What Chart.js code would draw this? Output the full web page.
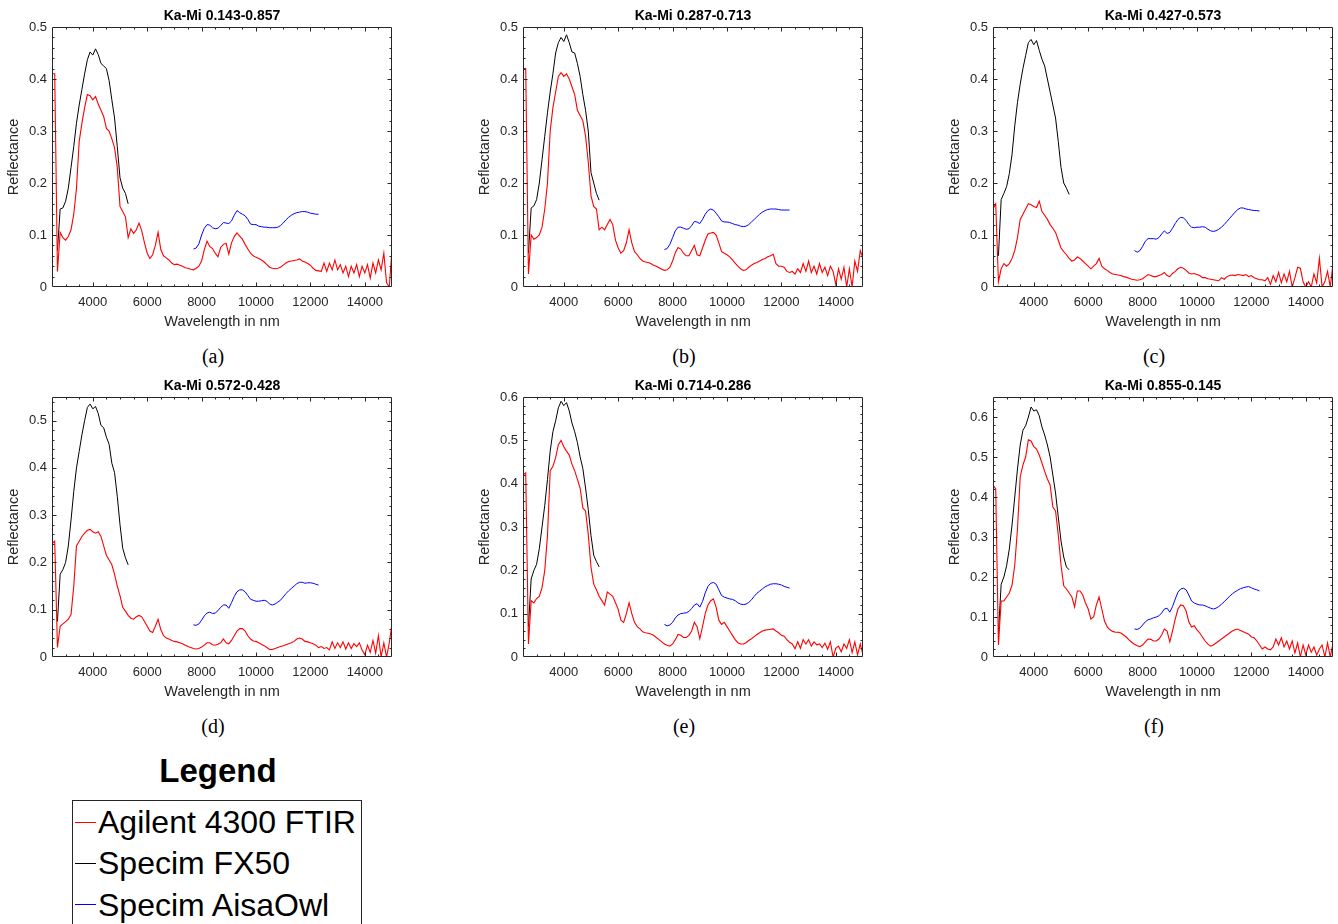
<!DOCTYPE html>
<html>
<head>
    <title>Ka-Mi reflectance spectra</title>
    <script src="https://cdn.jsdelivr.net/npm/chart.js"></script>
    <style>
        body {
            margin: 0;
            background-color: #ffffff;
            font-family: "Liberation Sans", Arial, Helvetica, sans-serif;
        }

        #page {
            position: relative;
            width: 1338px;
            height: 924px;
            overflow: hidden;
        }

        canvas {
            position: absolute;
        }

        .caption {
            position: absolute;
            width: 100px;
            text-align: center;
            font: 20px/20px "Liberation Serif", "Times New Roman", serif;
            color: #000;
        }

        #legendTitle {
            position: absolute;
            left: 118px;
            top: 754px;
            width: 200px;
            text-align: center;
            font: bold 33px/33px "Liberation Sans", Arial, sans-serif;
            color: #000;
        }

        #legendBox {
            position: absolute;
            left: 72px;
            top: 800px;
            width: 288px;
            height: 140px;
            border: 1px solid #262626;
            background: #fff;
        }

        .entry {
            position: absolute;
            left: 25px;
            font: 32px/32px "Liberation Sans", Arial, sans-serif;
            color: #000;
            white-space: nowrap;
        }

        .swatch {
            position: absolute;
            left: 2px;
            width: 21px;
            height: 1px;
        }
    </style>
</head>
<body>
<div id="page">
    <div id="legendTitle">Legend</div>
    <div id="legendBox"></div>
</div>

<script>
    // wavelengths (nm) for each instrument
    const wlAgilent = [
        2500, 2600, 2700, 2800, 2900, 3000, 3100, 3200, 3300, 3400,
        3500, 3600, 3700, 3800, 3900, 4000, 4100, 4200, 4300, 4400,
        4500, 4600, 4700, 4800, 4900, 5000, 5100, 5200, 5300, 5400,
        5500, 5600, 5700, 5800, 5900, 6000, 6100, 6200, 6300, 6400,
        6500, 6600, 6700, 6800, 6900, 7000, 7100, 7200, 7300, 7400,
        7500, 7600, 7700, 7800, 7900, 8000, 8100, 8200, 8300, 8400,
        8500, 8600, 8700, 8800, 8900, 9000, 9100, 9200, 9300, 9400,
        9500, 9600, 9700, 9800, 9900, 10000, 10100, 10200, 10300, 10400,
        10500, 10600, 10700, 10800, 10900, 11000, 11100, 11200, 11300, 11400,
        11500, 11600, 11700, 11800, 11900, 12000, 12100, 12200, 12300, 12400,
        12500, 12600, 12700, 12800, 12900, 13000, 13100, 13200, 13300, 13400,
        13500, 13600, 13700, 13800, 13900, 14000, 14100, 14200, 14300, 14400,
        14500, 14600, 14700, 14800, 14900, 15000
    ];
    const wlFX50 = [
        2700, 2800, 2900, 3000, 3100, 3200, 3300, 3400, 3500, 3600,
        3700, 3800, 3900, 4000, 4100, 4200, 4300, 4400, 4500, 4600,
        4700, 4800, 4900, 5000, 5100, 5200, 5300
    ];
    const wlAisa = [
        7700, 7800, 7900, 8000, 8100, 8200, 8300, 8400, 8500, 8600,
        8700, 8800, 8900, 9000, 9100, 9200, 9300, 9400, 9500, 9600,
        9700, 9800, 9900, 10000, 10100, 10200, 10300, 10400, 10500, 10600,
        10700, 10800, 10900, 11000, 11100, 11200, 11300, 11400, 11500, 11600,
        11700, 11800, 11900, 12000, 12100, 12200, 12300
    ];

    const seriesNames = ['Agilent 4300 FTIR', 'Specim FX50', 'Specim AisaOwl'];
    const seriesColors = ['#ff0000', '#000000', '#0000ff'];
    const titles = ['Ka-Mi 0.143-0.857', 'Ka-Mi 0.287-0.713', 'Ka-Mi 0.427-0.573',
                    'Ka-Mi 0.572-0.428', 'Ka-Mi 0.714-0.286', 'Ka-Mi 0.855-0.145'];
    const captions = ['(a)', '(b)', '(c)', '(d)', '(e)', '(f)'];
    const xTicks = [4000, 6000, 8000, 10000, 12000, 14000];
    const yMax = [0.5, 0.5, 0.5, 0.55, 0.6, 0.65];
    const yTicks = [
        [0, 0.1, 0.2, 0.3, 0.4, 0.5],
        [0, 0.1, 0.2, 0.3, 0.4, 0.5],
        [0, 0.1, 0.2, 0.3, 0.4, 0.5],
        [0, 0.1, 0.2, 0.3, 0.4, 0.5],
        [0, 0.1, 0.2, 0.3, 0.4, 0.5, 0.6],
        [0, 0.1, 0.2, 0.3, 0.4, 0.5, 0.6]
    ];

    // Agilent 4300 FTIR reflectance, one array per mixture
    const agilentA = [
        .41, .41, .03, .105, .095, .09, .097, .11, .14, .19,
        .28, .315, .345, .37, .368, .36, .366, .352, .34, .328,
        .305, .3, .285, .268, .23, .155, .145, .135, .095, .112,
        .103, .11, .123, .108, .085, .065, .055, .062, .08, .105,
        .072, .06, .056, .052, .046, .043, .044, .042, .04, .037,
        .036, .034, .033, .036, .04, .05, .072, .088, .078, .074,
        .065, .058, .076, .082, .084, .063, .085, .097, .104, .098,
        .092, .082, .073, .065, .06, .057, .055, .052, .048, .043,
        .038, .036, .035, .036, .038, .042, .046, .049, .05, .051,
        .052, .054, .05, .048, .045, .042, .036, .032, .031, .03,
        .046, .03, .046, .033, .052, .033, .043, .027, .04, .02,
        .04, .027, .043, .02, .04, .027, .043, .017, .046, .027,
        .052, .033, .065, .008, 0, .072
    ];
    const agilentB = [
        .42, .42, .025, .1, .092, .095, .1, .115, .15, .2,
        .3, .345, .375, .405, .412, .405, .41, .4, .385, .37,
        .34, .33, .32, .29, .24, .175, .155, .15, .11, .115,
        .11, .12, .13, .12, .09, .075, .065, .07, .085, .11,
        .085, .068, .062, .055, .05, .048, .047, .045, .042, .04,
        .037, .034, .032, .033, .038, .05, .066, .076, .073, .065,
        .06, .06, .07, .08, .062, .06, .075, .09, .102, .104,
        .105, .1, .085, .068, .065, .062, .058, .052, .046, .04,
        .035, .032, .033, .038, .042, .045, .047, .05, .053, .055,
        .058, .06, .063, .045, .04, .04, .038, .03, .028, .03,
        .025, .035, .028, .045, .03, .05, .028, .04, .025, .045,
        .028, .038, .022, .04, .03, .005, .035, .015, .038, 0,
        .035, 0, .05, .03, .07, .055
    ];
    const agilentC = [
        .15, .16, .01, .035, .045, .04, .045, .055, .07, .095,
        .13, .14, .15, .16, .158, .155, .153, .165, .145, .138,
        .13, .12, .113, .105, .09, .075, .068, .062, .055, .05,
        .052, .058, .055, .05, .045, .04, .035, .04, .045, .055,
        .04, .035, .032, .028, .025, .024, .023, .022, .02, .019,
        .017, .015, .014, .013, .014, .016, .02, .024, .022, .02,
        .02, .022, .024, .028, .022, .02, .026, .03, .035, .038,
        .036, .032, .027, .025, .026, .024, .022, .018, .018, .016,
        .015, .014, .013, .012, .018, .015, .02, .022, .023, .022,
        .024, .023, .022, .024, .02, .022, .018, .016, .014, .014,
        .012, .018, .005, .022, .01, .028, .008, .025, .01, .03,
        0, .018, .038, .036, .01, 0, .01, 0, .025, .008,
        .055, 0, .01, .03, 0, .045
    ];
    const agilentD = [
        .24, .245, .02, .065, .07, .075, .08, .09, .15, .235,
        .245, .255, .262, .268, .27, .265, .262, .265, .255, .235,
        .215, .205, .195, .175, .15, .13, .105, .097, .088, .082,
        .08, .085, .088, .085, .075, .065, .055, .052, .065, .08,
        .058, .045, .04, .038, .035, .033, .032, .03, .028, .025,
        .022, .02, .018, .017, .018, .021, .025, .03, .03, .026,
        .025, .027, .03, .038, .03, .028, .035, .045, .055, .06,
        .06, .055, .045, .038, .034, .033, .03, .027, .024, .02,
        .016, .016, .018, .02, .022, .024, .026, .028, .03, .033,
        .038, .04, .038, .033, .032, .03, .028, .025, .02, .022,
        .018, .02, .015, .032, .018, .03, .02, .032, .017, .03,
        .018, .028, .022, .03, .015, .005, .025, .01, .035, .008,
        .045, 0, .03, 0, .03, .07
    ];
    const agilentE = [
        .42, .425, .03, .13, .125, .135, .14, .16, .2, .28,
        .43, .44, .46, .49, .5, .485, .475, .466, .445, .43,
        .41, .39, .344, .337, .283, .207, .168, .155, .14, .13,
        .12, .15, .145, .14, .125, .11, .085, .08, .1, .125,
        .1, .08, .07, .065, .058, .056, .055, .053, .05, .045,
        .04, .035, .03, .027, .025, .03, .04, .052, .05, .045,
        .045, .05, .06, .08, .07, .042, .07, .1, .12, .13,
        .134, .115, .085, .075, .08, .07, .06, .05, .04, .033,
        .03, .03, .033, .038, .042, .047, .052, .056, .06, .062,
        .063, .064, .065, .06, .056, .05, .048, .04, .034, .03,
        .019, .035, .02, .04, .03, .04, .025, .035, .028, .03,
        .022, .032, .018, .035, 0, .02, .025, .012, .03, .02,
        .04, .01, .035, .005, .03, .005
    ];
    const agilentF = [
        .43, .42, .03, .14, .14, .15, .16, .18, .23, .32,
        .45, .48, .5, .543, .54, .526, .52, .505, .485, .464,
        .445, .43, .375, .365, .305, .23, .178, .17, .16, .15,
        .125, .165, .165, .155, .135, .12, .095, .1, .13, .15,
        .12, .09, .075, .068, .064, .062, .062, .06, .055, .05,
        .043, .037, .032, .028, .026, .03, .038, .045, .044, .04,
        .04, .045, .055, .07, .065, .038, .065, .095, .12, .13,
        .128, .115, .088, .075, .078, .068, .06, .05, .04, .032,
        .027, .03, .035, .04, .045, .05, .055, .06, .065, .068,
        .07, .066, .063, .06, .057, .05, .048, .04, .03, .02,
        .025, .02, .018, .025, .045, .03, .048, .025, .04, .02,
        .04, .01, .035, 0, .03, .005, .03, .012, .025, .005,
        .02, .03, 0, .035, 0, .035
    ];

    // Specim FX50 reflectance
    const fx50A = [.07, .15, .152, .165, .19, .23, .27, .315, .35, .38, .41, .437, .452, .446, .458, .447, .43, .425, .42, .397, .36, .325, .27, .21, .19, .18, .16];
    const fx50B = [.065, .152, .156, .168, .2, .245, .29, .335, .375, .41, .45, .47, .48, .472, .485, .47, .452, .45, .43, .405, .37, .34, .3, .22, .2, .18, .167];
    const fx50C = [.06, .168, .18, .193, .218, .255, .31, .355, .39, .42, .445, .47, .476, .466, .474, .455, .438, .425, .4, .375, .35, .325, .28, .23, .2, .19, .178];
    const fx50D = [.075, .175, .185, .2, .235, .29, .35, .4, .435, .47, .5, .528, .535, .525, .53, .515, .49, .485, .465, .45, .41, .39, .34, .28, .23, .21, .195];
    const fx50E = [.07, .18, .2, .214, .25, .3, .35, .41, .475, .52, .545, .575, .59, .58, .587, .568, .54, .52, .495, .462, .435, .39, .34, .28, .235, .22, .208];
    const fx50F = [.06, .182, .2, .228, .27, .33, .4, .47, .53, .567, .578, .6, .625, .615, .618, .603, .575, .555, .53, .5, .455, .41, .35, .29, .25, .225, .218];

    // Specim AisaOwl reflectance
    const aisaA = [
        .073, .075, .083, .1, .113, .12, .119, .114, .112, .113,
        .118, .124, .123, .122, .127, .138, .147, .143, .14, .137,
        .13, .121, .12, .12, .117, .116, .115, .115, .114, .114,
        .114, .115, .118, .123, .129, .134, .138, .141, .143, .144,
        .145, .145, .144, .142, .141, .14, .14
    ];
    const aisaB = [
        .072, .074, .082, .095, .108, .115, .115, .113, .111, .112,
        .118, .126, .125, .122, .13, .14, .147, .15, .148, .142,
        .135, .127, .125, .125, .124, .122, .12, .119, .117, .116,
        .117, .12, .125, .13, .135, .14, .144, .147, .149, .15,
        .15, .15, .149, .148, .148, .148, .148
    ];
    const aisaC = [
        .07, .067, .07, .078, .088, .093, .093, .093, .092, .095,
        .102, .108, .103, .105, .113, .122, .13, .134, .133, .128,
        .12, .115, .114, .115, .115, .116, .115, .111, .108, .107,
        .108, .111, .115, .12, .126, .132, .138, .144, .149, .152,
        .152, .15, .149, .148, .147, .147, .146
    ];
    const aisaD = [
        .068, .067, .07, .078, .087, .093, .095, .092, .093, .098,
        .105, .11, .11, .103, .115, .128, .138, .142, .142, .138,
        .13, .122, .12, .118, .118, .119, .12, .118, .112, .11,
        .112, .116, .12, .127, .134, .14, .145, .15, .155, .158,
        .158, .156, .157, .157, .156, .154, .152
    ];
    const aisaE = [
        .075, .072, .074, .08, .09, .097, .1, .101, .102, .105,
        .112, .12, .123, .115, .128, .148, .163, .17, .172, .168,
        .155, .142, .138, .136, .134, .133, .13, .125, .122, .121,
        .122, .126, .132, .14, .147, .152, .157, .162, .165, .168,
        .169, .169, .168, .166, .163, .161, .159
    ];
    const aisaF = [
        .07, .069, .072, .08, .088, .093, .095, .098, .1, .103,
        .11, .12, .122, .112, .126, .145, .162, .17, .172, .168,
        .155, .14, .135, .132, .13, .13, .128, .125, .122, .12,
        .122, .126, .132, .138, .145, .152, .158, .163, .167, .171,
        .173, .175, .176, .173, .17, .168, .165
    ];

    const agilent = [agilentA, agilentB, agilentC, agilentD, agilentE, agilentF];
    const fx50 = [fx50A, fx50B, fx50C, fx50D, fx50E, fx50F];
    const aisa = [aisaA, aisaB, aisaC, aisaD, aisaE, aisaF];

    // where each subplot canvas goes on the page
    const colLeft = [-1, 470, 940];
    const rowTop = [0, 370];
    const FONT = '"Liberation Sans", Arial, Helvetica, sans-serif';
    const AXIS_GREY = '#262626';

    const pairs = (xs, ys) => xs.map((x, k) => ({ x: x, y: ys[k] }));

    // MATLAB style box with inward major/minor ticks on all four sides
    const boxTicks = {
        id: 'boxTicks',
        afterDatasetsDraw(chart) {
            const { ctx, chartArea: a, scales: { x, y } } = chart;
            const L = Math.round(a.left) + 0.5, R = Math.round(a.right) - 0.5;
            const T = Math.round(a.top) + 0.5, B = Math.round(a.bottom) - 0.5;
            ctx.save();
            ctx.strokeStyle = AXIS_GREY;
            ctx.lineWidth = 1;
            ctx.beginPath();
            for (let v = 3000; v < 15000; v += 500) {
                const px = Math.round(x.getPixelForValue(v)) + 0.5;
                const len = xTicks.includes(v) ? 4 : 2;
                ctx.moveTo(px, B); ctx.lineTo(px, B - len);
                ctx.moveTo(px, T); ctx.lineTo(px, T + len);
            }
            for (let k = 1; k * 0.02 < y.max - 1e-9; k++) {
                const py = Math.round(y.getPixelForValue(k * 0.02)) + 0.5;
                const len = k % 5 === 0 ? 4 : 2;
                ctx.moveTo(L, py); ctx.lineTo(L + len, py);
                ctx.moveTo(R, py); ctx.lineTo(R - len, py);
            }
            ctx.rect(L, T, R - L, B - T);
            ctx.stroke();
            ctx.restore();
        }
    };

    const page = document.getElementById('page');

    titles.forEach((title, i) => {
        const left = colLeft[i % 3];
        const top = rowTop[Math.floor(i / 3)];

        const canvas = document.createElement('canvas');
        canvas.width = 400;
        canvas.height = 332;
        canvas.style.left = left + 'px';
        canvas.style.top = top + 'px';
        page.appendChild(canvas);

        const cap = document.createElement('div');
        cap.className = 'caption';
        cap.textContent = captions[i];
        cap.style.left = (left + 164) + 'px';
        cap.style.top = (top + 346) + 'px';
        page.appendChild(cap);

        new Chart(canvas, {
            type: 'line',
            data: {
                datasets: [
                    { label: seriesNames[0], data: pairs(wlAgilent, agilent[i]), borderColor: seriesColors[0], borderWidth: 1.1 },
                    { label: seriesNames[1], data: pairs(wlFX50, fx50[i]), borderColor: seriesColors[1], borderWidth: 1 },
                    { label: seriesNames[2], data: pairs(wlAisa, aisa[i]), borderColor: seriesColors[2], borderWidth: 1 }
                ]
            },
            options: {
                responsive: false,
                animation: false,
                elements: { point: { radius: 0 }, line: { tension: 0 } },
                layout: { padding: { left: 0, right: 7, top: 0, bottom: 0 } },
                plugins: {
                    legend: { display: false },
                    tooltip: { enabled: false },
                    title: {
                        display: true,
                        text: title,
                        fullSize: false,
                        color: '#000',
                        font: { family: FONT, size: 14, weight: 'bold' },
                        padding: { top: 7.5, bottom: 2.7 }
                    }
                },
                scales: {
                    x: {
                        type: 'linear',
                        min: 2500,
                        max: 15000,
                        afterBuildTicks: s => { s.ticks = xTicks.map(v => ({ value: v })); },
                        afterFit: s => { s.height = 45; },
                        grid: { display: false, drawTicks: false },
                        border: { display: false },
                        ticks: {
                            padding: 8,
                            color: AXIS_GREY,
                            autoSkip: false,
                            maxRotation: 0,
                            font: { family: FONT, size: 13 },
                            callback: v => String(v)
                        },
                        title: {
                            display: true,
                            text: 'Wavelength in nm',
                            color: AXIS_GREY,
                            font: { family: FONT, size: 14.5 },
                            padding: { top: 0, bottom: 1.8 }
                        }
                    },
                    y: {
                        min: 0,
                        max: yMax[i],
                        afterBuildTicks: s => { s.ticks = yTicks[i].map(v => ({ value: v })); },
                        afterFit: s => { s.width = 53; },
                        grid: { display: false, drawTicks: false },
                        border: { display: false },
                        ticks: {
                            padding: 5,
                            color: AXIS_GREY,
                            font: { family: FONT, size: 13 },
                            callback: v => String(v)
                        },
                        title: {
                            display: true,
                            text: 'Reflectance',
                            color: AXIS_GREY,
                            font: { family: FONT, size: 14.5 },
                            padding: { top: 6.3, bottom: 0 }
                        }
                    }
                }
            },
            plugins: [boxTicks]
        });
    });

    // figure legend below the grid
    const legendBox = document.getElementById('legendBox');
    seriesNames.forEach((name, k) => {
        const entryTop = 5 + k * 41.3;
        const sw = document.createElement('div');
        sw.className = 'swatch';
        sw.style.top = (entryTop + 15.6) + 'px';
        sw.style.background = seriesColors[k];
        legendBox.appendChild(sw);
        const txt = document.createElement('div');
        txt.className = 'entry';
        txt.style.top = entryTop + 'px';
        txt.textContent = name;
        legendBox.appendChild(txt);
    });
</script>
</body>
</html>
